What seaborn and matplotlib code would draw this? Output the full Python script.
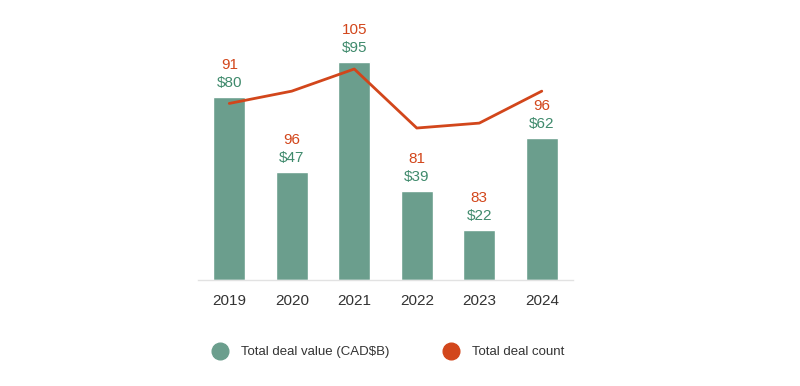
import pandas as pd
import seaborn as sns
import matplotlib.pyplot as plt
from matplotlib.lines import Line2D

years = ["2019", "2020", "2021", "2022", "2023", "2024"]
deal_value = [80, 47, 95, 39, 22, 62]
deal_count = [91, 96, 105, 81, 83, 96]

bar_color = "#6b9e8d"
value_text = "#3f8a6c"
line_color = "#d2461b"

df = pd.DataFrame({"year": years, "value": deal_value, "count": deal_count})

sns.set_style("white")
plt.rcParams["font.family"] = ["Liberation Sans", "DejaVu Sans"]

fig = plt.figure(figsize=(8, 3.86), dpi=100)
ax = fig.add_axes([0.2475, 0.2746, 0.4688, 0.6218])

sns.barplot(data=df, x="year", y="value", color=bar_color, width=0.51,
            saturation=1, ax=ax)
ax.set_ylim(0, 104.8)
ax.set_xlim(-0.5, 5.5)

ax2 = ax.twinx()
sns.lineplot(x=list(range(len(years))), y=deal_count, color=line_color,
             linewidth=2, ax=ax2)
ax2.set_ylim(19.2, 116.8)

# labels above each bar: value then count
for i, (v, c) in enumerate(zip(deal_value, deal_count)):
    ax.annotate(f"${v}", (i, v), xytext=(0, 5), textcoords="offset points",
                ha="center", va="bottom", fontsize=11, color=value_text)
    ax.annotate(f"{c}", (i, v), xytext=(0, 18), textcoords="offset points",
                ha="center", va="bottom", fontsize=11, color=line_color)

for a in (ax, ax2):
    a.set_yticks([])
    a.set_ylabel("")
    for s in ["top", "right", "left"]:
        a.spines[s].set_visible(False)
ax2.spines["bottom"].set_visible(False)
ax.spines["bottom"].set_color("#e2e2e2")
ax.spines["bottom"].set_linewidth(1)
ax.set_xlabel("")
ax.tick_params(axis="x", length=0, pad=10, labelsize=11, labelcolor="#333333")

handles = [
    Line2D([], [], marker="o", linestyle="", markersize=12,
           markerfacecolor=bar_color, markeredgecolor=bar_color),
    Line2D([], [], marker="o", linestyle="", markersize=12,
           markerfacecolor=line_color, markeredgecolor=line_color),
]
fig.legend(handles, ["Total deal value (CAD$B)", "Total deal count"],
           loc="center", bbox_to_anchor=(0.482, 0.088), ncol=2, frameon=False,
           fontsize=9.5, handletextpad=0.6, columnspacing=3.7,
           labelcolor="#333333")

fig.savefig("out.png", dpi=100)
